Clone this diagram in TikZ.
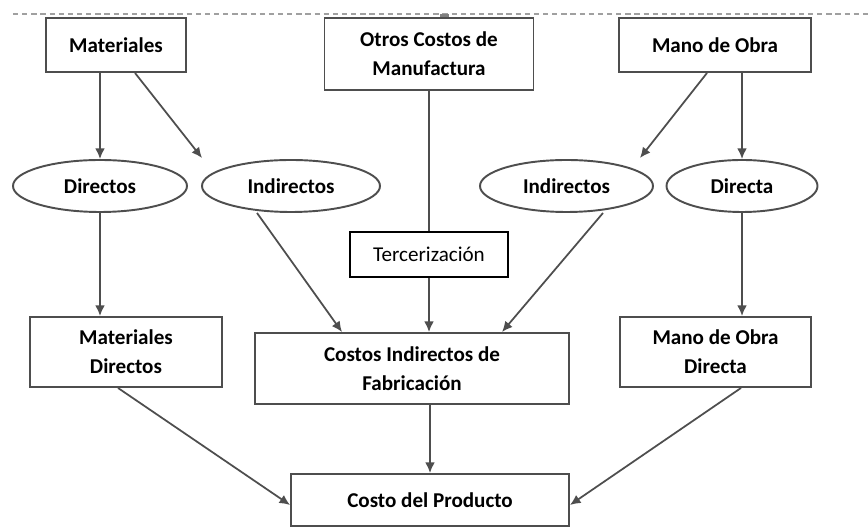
\documentclass[tikz,border=0pt]{standalone}
\usepackage{fontspec}
\setsansfont{Carlito}
\usepackage{xcolor}
\usetikzlibrary{shapes.geometric, arrows.meta, positioning}
\definecolor{costline}{RGB}{78, 78, 78}
\definecolor{costdash}{RGB}{160, 160, 160}

\begin{document}
\begin{tikzpicture}[
    box/.style={
        rectangle,
        draw=costline,
        fill=white,
        line width=1.1pt,
        inner sep=0pt,
        align=center,
        font=\sffamily\bfseries\fontsize{12}{16.5}\selectfont
    },
    oval/.style={
        ellipse,
        draw=costline,
        line width=1.1pt,
        inner sep=0pt,
        minimum height=1.04cm,
        font=\sffamily\bfseries\fontsize{12}{16.5}\selectfont
    },
    note/.style={
        rectangle,
        draw=black,
        line width=0.8pt,
        inner sep=0pt,
        minimum width=3.16cm,
        minimum height=0.9cm,
        font=\sffamily\fontsize{12}{15}\selectfont
    },
    arrow/.style={
        -{Latex[length=6pt,width=5.5pt]},
        line width=1pt,
        costline
    }
]

\useasboundingbox (0,0) rectangle (17.36,10.54);

% Dashed frame line on top
\draw[costdash, line width=0.6pt, dash pattern=on 3pt off 2.2pt] (0.26,10.26) -- (17.36,10.26);
\fill[costdash!80!black] (8.80,10.12) rectangle (8.98,10.26);

% Cost sources
\node[box, minimum width=2.8cm, minimum height=1.08cm] (mat) at (2.32,9.64) {Materiales};
\node[box, minimum width=4.18cm, minimum height=1.44cm] (otros) at (8.58,9.46) {Otros Costos de\\Manufactura};
\node[box, minimum width=3.84cm, minimum height=1.08cm] (mano) at (14.30,9.64) {Mano de Obra};

% Direct / indirect split
\node[oval, minimum width=3.48cm] (dir) at (2.00,6.82) {Directos};
\node[oval, minimum width=3.56cm] (indL) at (5.82,6.82) {Indirectos};
\node[oval, minimum width=3.46cm] (indR) at (11.33,6.82) {Indirectos};
\node[oval, minimum width=3.02cm] (dta) at (14.84,6.82) {Directa};

\node[note] (terc) at (8.58,5.45) {Tercerización};

% Cost groups
\node[box, minimum width=3.84cm, minimum height=1.4cm] (matdir) at (2.52,3.50) {Materiales\\Directos};
\node[box, minimum width=6.28cm, minimum height=1.42cm] (cif) at (8.24,3.17) {Costos Indirectos de\\Fabricación};
\node[box, minimum width=3.82cm, minimum height=1.4cm] (mod) at (14.31,3.50) {Mano de Obra\\Directa};
\node[box, minimum width=5.56cm, minimum height=1.04cm] (cp) at (8.60,0.54) {Costo del Producto};

% Free arrow ends above the ovals
\coordinate (matind) at (4.04,7.38);
\coordinate (manoind) at (12.80,7.38);

% Connections
\draw[arrow] (mat.south -| dir.north) -- (dir.north);
\draw[arrow] ([xshift=0.38cm]mat.south) -- (matind);
\draw[arrow] ([xshift=-0.16cm]mano.south) -- (manoind);
\draw[arrow] (mano.south -| dta.north) -- (dta.north);

\draw[arrow] (dir.south) -- (dir.south |- matdir.north);
\draw[arrow] ([xshift=-0.68cm]indL.south) -- ([xshift=-1.4cm]cif.north);
\draw[line width=1pt, costline] (otros.south) -- (terc.north);
\draw[arrow] (terc.south) -- (terc.south |- cif.north);
\draw[arrow] ([xshift=0.73cm]indR.south) -- ([xshift=1.8cm]cif.north);
\draw[arrow] (dta.south) -- (dta.south |- mod.north);

\draw[arrow] ([xshift=-0.16cm]matdir.south) -- ([yshift=-0.1cm]cp.west);
\draw[arrow] (cif.south -| cp.north) -- (cp.north);
\draw[arrow] ([xshift=0.51cm]mod.south) -- ([yshift=-0.1cm]cp.east);

\end{tikzpicture}
\end{document}
